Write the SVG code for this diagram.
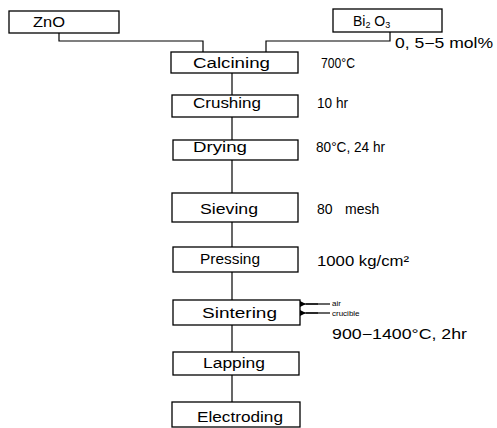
<svg xmlns="http://www.w3.org/2000/svg" width="497" height="428" viewBox="0 0 497 428">
<defs>
<style>
.box{fill:#fff;stroke:#000;stroke-width:1.3}
.ln{fill:none;stroke:#000;stroke-width:1.2}
text{font-family:"Liberation Sans",Arial,sans-serif;font-size:14px;fill:#000}
.sm{font-size:8px}
</style>
<marker id="ah" viewBox="0 0 10 10" refX="0" refY="5" markerWidth="10" markerHeight="6" orient="auto" markerUnits="userSpaceOnUse">
<path d="M10,0 L0,5 L10,10 z" fill="#000"/>
</marker>
</defs>
<g id="connectors">
<path class="ln" d="M59,33 V41 H203 V52"/>
<path class="ln" d="M390,32 V41 H266 V52"/>
<path class="ln" d="M232,73 V95"/>
<path class="ln" d="M232,117 V140"/>
<path class="ln" d="M232,160 V193"/>
<path class="ln" d="M232,222 V247"/>
<path class="ln" d="M232,272 V300"/>
<path class="ln" d="M232,325 V352"/>
<path class="ln" d="M232,375 V402"/>
<path class="ln" d="M300,304 H330"/>
<path class="ln" d="M318,304 H306" marker-end="url(#ah)"/>
<path class="ln" d="M302,313 H330"/>
<path class="ln" d="M318,313 H306" marker-end="url(#ah)"/>
</g>
<g id="zno"><rect class="box" x="9" y="11" width="110" height="22"/><text x="33" y="27" textLength="32" lengthAdjust="spacingAndGlyphs">ZnO</text></g>
<g id="bi2o3"><rect class="box" x="333" y="9" width="109" height="23"/><text x="353" y="26">Bi<tspan font-size="9" dy="2">2</tspan><tspan dy="-2"> O</tspan><tspan font-size="9" dy="2">3</tspan></text></g>
<text x="395" y="48" textLength="98" lengthAdjust="spacingAndGlyphs">0, 5−5 mol%</text>
<g id="calcining"><rect class="box" x="171" y="52" width="127" height="21"/><text x="193" y="68" textLength="77" lengthAdjust="spacingAndGlyphs">Calcining</text></g>
<text x="321" y="68" textLength="34" lengthAdjust="spacingAndGlyphs">700°C</text>
<g id="crushing"><rect class="box" x="172" y="95" width="126" height="22"/><text x="193" y="108" textLength="68" lengthAdjust="spacingAndGlyphs">Crushing</text></g>
<text x="317" y="108" textLength="31" lengthAdjust="spacingAndGlyphs">10 hr</text>
<g id="drying"><rect class="box" x="173" y="140" width="125" height="20"/><text x="193" y="152" textLength="54" lengthAdjust="spacingAndGlyphs">Drying</text></g>
<text x="316" y="152" textLength="69" lengthAdjust="spacingAndGlyphs">80°C, 24 hr</text>
<g id="sieving"><rect class="box" x="172" y="193" width="126" height="29"/><text x="200" y="214" textLength="58" lengthAdjust="spacingAndGlyphs">Sieving</text></g>
<text x="317" y="214">80<tspan x="345">mesh</tspan></text>
<g id="pressing"><rect class="box" x="173" y="247" width="125" height="25"/><text x="200" y="264" textLength="60" lengthAdjust="spacingAndGlyphs">Pressing</text></g>
<text x="317" y="266" textLength="92" lengthAdjust="spacingAndGlyphs">1000 kg/cm²</text>
<g id="sintering"><rect class="box" x="173" y="300" width="127" height="25"/><text x="202" y="318" textLength="75" lengthAdjust="spacingAndGlyphs">Sintering</text></g>
<text class="sm" x="332" y="306">air</text>
<text class="sm" x="332" y="316">crucible</text>
<text x="332" y="339" textLength="135" lengthAdjust="spacingAndGlyphs">900−1400°C, 2hr</text>
<g id="lapping"><rect class="box" x="173" y="352" width="126" height="23"/><text x="203" y="368" textLength="62" lengthAdjust="spacingAndGlyphs">Lapping</text></g>
<g id="electroding"><rect class="box" x="172" y="402" width="128" height="25"/><text x="197" y="422" textLength="86" lengthAdjust="spacingAndGlyphs">Electroding</text></g>
</svg>
